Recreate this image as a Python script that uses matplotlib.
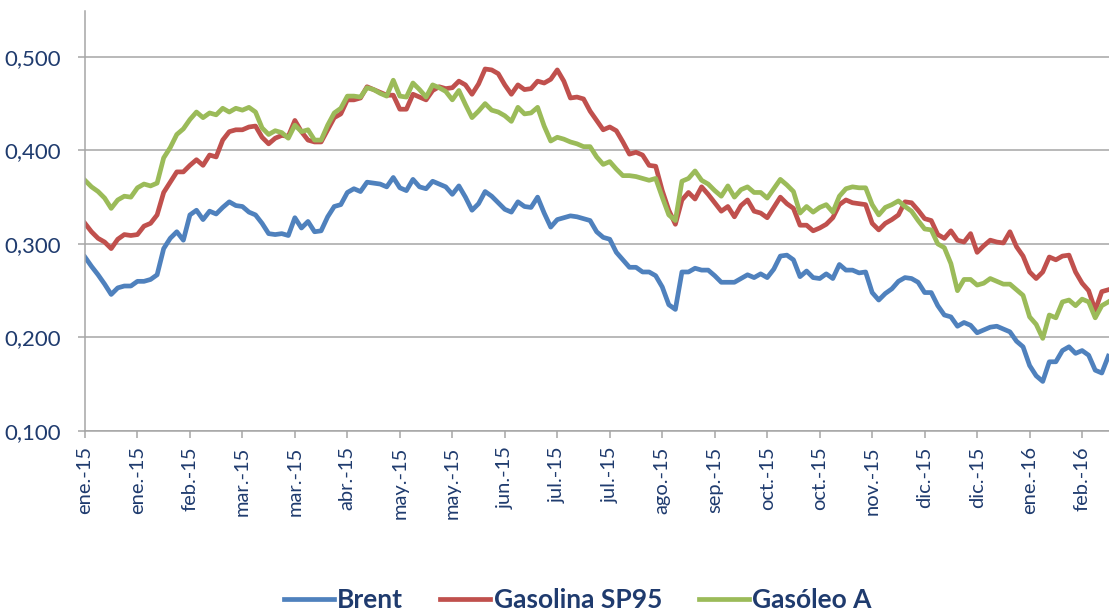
import matplotlib.pyplot as plt
from matplotlib.ticker import FuncFormatter

# Valores (EUR/litro), un punto cada ~1/8 de intervalo de etiqueta
brent = [0.286, 0.276, 0.267, 0.257, 0.246, 0.253, 0.255, 0.255, 0.260, 0.260,
         0.262, 0.267, 0.295, 0.306, 0.313, 0.304, 0.331, 0.336, 0.326, 0.335,
         0.332, 0.339, 0.345, 0.341, 0.340, 0.334, 0.331, 0.322, 0.311, 0.310,
         0.311, 0.309, 0.328, 0.317, 0.324, 0.313, 0.314, 0.329, 0.340, 0.342,
         0.355, 0.359, 0.356, 0.366, 0.365, 0.364, 0.361, 0.371, 0.360, 0.357,
         0.369, 0.361, 0.359, 0.367, 0.364, 0.361, 0.353, 0.362, 0.350, 0.336,
         0.343, 0.356, 0.351, 0.344, 0.337, 0.334, 0.345, 0.340, 0.339, 0.350,
         0.333, 0.318, 0.326, 0.328, 0.330, 0.329, 0.327, 0.325, 0.313, 0.307,
         0.305, 0.291, 0.283, 0.275, 0.275, 0.270, 0.270, 0.266, 0.254, 0.235,
         0.230, 0.270, 0.270, 0.274, 0.272, 0.272, 0.266, 0.259, 0.259, 0.259,
         0.263, 0.267, 0.264, 0.268, 0.264, 0.273, 0.287, 0.288, 0.283, 0.265,
         0.271, 0.264, 0.263, 0.268, 0.263, 0.278, 0.272, 0.272, 0.269, 0.270,
         0.248, 0.240, 0.247, 0.252, 0.260, 0.264, 0.263, 0.259, 0.248, 0.248,
         0.234, 0.224, 0.222, 0.212, 0.216, 0.213, 0.205, 0.208, 0.211, 0.212,
         0.209, 0.206, 0.196, 0.190, 0.170, 0.159, 0.153, 0.174, 0.174, 0.186,
         0.190, 0.183, 0.186, 0.181, 0.165, 0.162, 0.180]

gasolina = [0.322, 0.313, 0.306, 0.302, 0.295, 0.305, 0.310, 0.309, 0.310, 0.319,
            0.322, 0.331, 0.355, 0.366, 0.377, 0.377, 0.384, 0.390, 0.384, 0.395,
            0.393, 0.411, 0.420, 0.422, 0.422, 0.425, 0.426, 0.414, 0.407, 0.413,
            0.416, 0.415, 0.432, 0.420, 0.411, 0.409, 0.409, 0.422, 0.435, 0.439,
            0.454, 0.454, 0.456, 0.468, 0.465, 0.462, 0.459, 0.459, 0.444, 0.444,
            0.460, 0.457, 0.454, 0.464, 0.468, 0.466, 0.467, 0.474, 0.470, 0.460,
            0.471, 0.487, 0.486, 0.482, 0.470, 0.460, 0.470, 0.465, 0.466, 0.474,
            0.472, 0.476, 0.486, 0.474, 0.456, 0.457, 0.455, 0.442, 0.432, 0.422,
            0.425, 0.421, 0.409, 0.396, 0.398, 0.395, 0.384, 0.383, 0.357, 0.336,
            0.321, 0.347, 0.355, 0.348, 0.361, 0.353, 0.344, 0.335, 0.340, 0.329,
            0.341, 0.347, 0.335, 0.333, 0.328, 0.339, 0.350, 0.343, 0.338, 0.320,
            0.320, 0.314, 0.317, 0.321, 0.328, 0.342, 0.347, 0.344, 0.343, 0.342,
            0.322, 0.315, 0.322, 0.326, 0.331, 0.345, 0.344, 0.336, 0.327, 0.325,
            0.310, 0.306, 0.314, 0.304, 0.302, 0.311, 0.291, 0.298, 0.304, 0.302,
            0.301, 0.313, 0.297, 0.287, 0.270, 0.263, 0.270, 0.286, 0.283, 0.287,
            0.288, 0.270, 0.258, 0.250, 0.229, 0.249, 0.251]

gasoleo = [0.368, 0.361, 0.356, 0.349, 0.338, 0.347, 0.351, 0.350, 0.360, 0.364,
           0.362, 0.365, 0.392, 0.403, 0.417, 0.423, 0.433, 0.441, 0.435, 0.440,
           0.438, 0.445, 0.441, 0.445, 0.443, 0.446, 0.441, 0.424, 0.417, 0.421,
           0.419, 0.413, 0.427, 0.420, 0.422, 0.411, 0.411, 0.427, 0.440, 0.445,
           0.458, 0.458, 0.457, 0.467, 0.465, 0.461, 0.458, 0.475, 0.458, 0.457,
           0.472, 0.465, 0.457, 0.470, 0.467, 0.463, 0.454, 0.464, 0.449, 0.435,
           0.442, 0.450, 0.443, 0.441, 0.437, 0.431, 0.446, 0.439, 0.440, 0.446,
           0.426, 0.410, 0.414, 0.412, 0.409, 0.407, 0.404, 0.404, 0.393, 0.385,
           0.388, 0.380, 0.373, 0.373, 0.372, 0.370, 0.368, 0.370, 0.350, 0.331,
           0.325, 0.367, 0.370, 0.378, 0.368, 0.364, 0.357, 0.351, 0.362, 0.350,
           0.358, 0.361, 0.355, 0.355, 0.349, 0.359, 0.369, 0.363, 0.356, 0.333,
           0.340, 0.334, 0.339, 0.342, 0.334, 0.351, 0.359, 0.361, 0.360, 0.360,
           0.342, 0.331, 0.339, 0.342, 0.346, 0.340, 0.335, 0.325, 0.316, 0.315,
           0.300, 0.296, 0.279, 0.250, 0.262, 0.262, 0.256, 0.258, 0.263, 0.260,
           0.257, 0.257, 0.251, 0.245, 0.222, 0.214, 0.199, 0.224, 0.221, 0.238,
           0.240, 0.234, 0.241, 0.238, 0.221, 0.234, 0.238]

etiquetas = ['ene.-15', 'ene.-15', 'feb.-15', 'mar.-15', 'mar.-15', 'abr.-15',
             'may.-15', 'may.-15', 'jun.-15', 'jul.-15', 'jul.-15', 'ago.-15',
             'sep.-15', 'oct.-15', 'oct.-15', 'nov.-15', 'dic.-15', 'dic.-15',
             'ene.-16', 'feb.-16']

series = ['Brent', 'Gasolina SP95', 'Gasóleo A']

PASO = 8  # puntos entre etiquetas del eje X
AZUL_TEXTO = '#1F3B6E'
GRIS = '#A6A6A6'

plt.rcParams['font.family'] = ['Lato', 'DejaVu Sans']

fig = plt.figure(figsize=(11.09, 6.11), dpi=100)
ax = fig.add_axes([0.0766, 0.2946, 0.9234, 0.6874])

x = range(len(brent))
ax.plot(x, brent, color='#4F81BD', lw=3.4, label=series[0], solid_joinstyle='round')
ax.plot(x, gasolina, color='#C0504D', lw=3.4, label=series[1], solid_joinstyle='round')
ax.plot(x, gasoleo, color='#9BBB59', lw=3.4, label=series[2], solid_joinstyle='round')

ax.set_xlim(0, len(brent) - 0.9)
ax.set_ylim(0.1, 0.549)

ax.set_yticks([0.1, 0.2, 0.3, 0.4, 0.5])
ax.yaxis.set_major_formatter(FuncFormatter(lambda v, p: f'{v:.3f}'.replace('.', ',')))
ax.set_xticks([i * PASO for i in range(len(etiquetas))])
ax.set_xticklabels(etiquetas, rotation=90)

ax.grid(axis='y', color=GRIS, lw=1.1)
ax.set_axisbelow(True)
for lado in ['top', 'right']:
  ax.spines[lado].set_visible(False)
for lado in ['left', 'bottom']:
  ax.spines[lado].set_color(GRIS)
  ax.spines[lado].set_linewidth(1.1)

ax.tick_params(axis='both', colors=GRIS, length=5, width=1.1,
               labelcolor=AZUL_TEXTO)
ax.tick_params(axis='x', pad=6, labelsize=14.5)
ax.tick_params(axis='y', pad=12, labelsize=16)

fig.legend(loc='center', bbox_to_anchor=(0.521, 0.018), ncol=3, frameon=False,
           handlelength=1.9, handletextpad=0.12, columnspacing=1.4,
           prop={'size': 19, 'weight': 'bold'}, labelcolor=AZUL_TEXTO)

fig.savefig('out.png', dpi=100)
